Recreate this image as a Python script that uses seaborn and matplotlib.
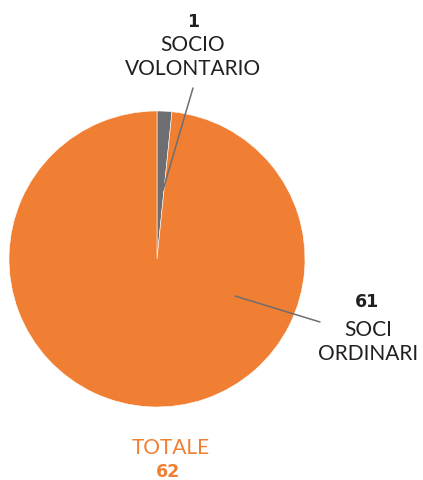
import matplotlib
matplotlib.use("Agg")
import matplotlib.pyplot as plt
import seaborn as sns

# data
categories = ["SOCIO\nVOLONTARIO", "SOCI\nORDINARI"]
counts = [1, 61]
colors = ["#6D6E71", "#F07F33"]
total = sum(counts)

sns.set_theme(style="white")
plt.rcParams["font.family"] = ["Lato", "DejaVu Sans"]

W, H = 423, 480
fig = plt.figure(figsize=(W / 100, H / 100), dpi=100)

# pie centre ~ (157, 259) px, radius ~148 px
cx, cy, r = 157, 259, 148
ax = fig.add_axes([(cx - r) / W, (H - cy - r) / H, 2 * r / W, 2 * r / H])
ax.pie(counts, colors=colors, startangle=90, counterclock=False,
       radius=1, wedgeprops=dict(edgecolor="white", linewidth=0.4))
ax.set_xlim(-1, 1)
ax.set_ylim(-1, 1)
ax.set_aspect("equal")
ax.axis("off")

def fx(x):
    return x / W

def fy(y):
    return 1 - y / H

txt = "#231F20"
lc = "#6D6E71"
num_font = dict(family="DejaVu Sans", fontweight="bold", fontsize=12.5)

# leader lines
fig.add_artist(plt.Line2D([fx(163), fx(193)], [fy(190), fy(88)], color=lc, lw=1.1))
fig.add_artist(plt.Line2D([fx(235), fx(320)], [fy(296), fy(322)], color=lc, lw=1.1))

# labels
fig.text(fx(193), fy(22), str(counts[0]), ha="center", va="center", color=txt, **num_font)
fig.text(fx(193), fy(57), categories[0], ha="center", va="center",
         fontsize=15, color=txt, linespacing=1.3)

fig.text(fx(367), fy(302), str(counts[1]), ha="center", va="center", color=txt, **num_font)
fig.text(fx(368), fy(342), categories[1], ha="center", va="center",
         fontsize=15, color=txt, linespacing=1.3)

fig.text(fx(171), fy(448), "TOTALE", ha="center", va="center",
         fontsize=15, color=colors[1])
fig.text(fx(168), fy(472), str(total), ha="center", va="center",
         color=colors[1], **num_font)

fig.savefig("out.png", dpi=100, facecolor="white")
